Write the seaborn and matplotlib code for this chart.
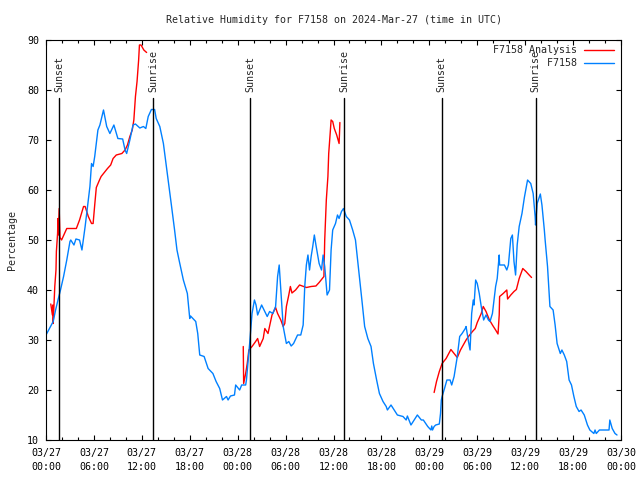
import pandas as pd
import matplotlib
matplotlib.use("Agg")
import matplotlib.pyplot as plt
import matplotlib.dates as mdates
from matplotlib.lines import Line2D
import seaborn as sns

START = pd.Timestamp("2024-03-27 00:00")

# observed RH (hours since start, percent)
obs_hours = [
    0.0, 0.5, 0.9, 1.2, 1.5, 1.8, 2.2, 2.6, 3.0, 3.1, 3.5, 3.75, 4.2, 4.5, 4.9,
    5.3, 5.5, 5.7, 5.9, 6.1, 6.5, 6.75, 7.2, 7.6, 8.0, 8.5, 9.0, 9.6, 9.9, 10.1,
    10.5, 10.9, 11.2, 11.75, 12.2, 12.5, 12.8, 13.2, 13.6, 13.8, 14.25, 14.7,
    15.3, 15.7, 16.1, 16.4, 16.7, 17.2, 17.7, 18.0, 18.1, 18.75, 19.0, 19.25,
    19.8, 20.3, 20.9, 21.3, 21.75, 22.1, 22.6, 22.8, 23.1, 23.6, 23.75, 24.25,
    24.5, 25.0, 25.1, 25.5, 25.8, 26.1, 26.3, 26.5, 27.0, 27.4, 27.7, 28.0,
    28.4, 28.75, 29.0, 29.2, 29.4, 29.7, 30.1, 30.4, 30.7, 31.0, 31.5, 31.9,
    32.2, 32.4, 32.6, 32.8, 33.0, 33.2, 33.4, 33.6, 33.8, 34.2, 34.5, 34.7,
    34.9, 35.2, 35.5, 35.7, 35.9, 36.25, 36.5, 36.7, 37.0, 37.25, 37.6, 38.0,
    38.4, 38.75, 39.0, 39.3, 39.6, 39.9, 40.3, 40.7, 41.0, 41.4, 41.75, 42.2,
    42.6, 42.75, 43.2, 43.6, 44.0, 44.7, 45.1, 45.25, 45.7, 46.1, 46.5, 47.0,
    47.25, 47.8, 48.2, 48.3, 48.4, 48.6, 48.8, 49.25, 49.4, 49.5, 49.6, 49.9,
    50.2, 50.6, 50.8, 51.1, 51.3, 51.5, 51.8, 52.1, 52.5, 52.6, 52.9, 53.1,
    53.3, 53.5, 53.6, 53.8, 54.0, 54.25, 54.5, 54.8, 55.1, 55.4, 55.6, 55.9,
    56.3, 56.5, 56.75, 56.8, 57.4, 57.7, 57.9, 58.2, 58.4, 58.6, 58.8, 59.0,
    59.25, 59.6, 59.9, 60.3, 60.7, 61.0, 61.25, 61.3, 61.5, 61.9, 62.1, 62.4,
    62.5, 62.8, 63.1, 63.5, 63.75, 64.0, 64.4, 64.6, 64.9, 65.2, 65.5, 65.8,
    66.1, 66.4, 66.75, 67.0, 67.4, 67.8, 68.1, 68.6, 68.75, 68.9, 69.3, 70.5,
    70.6, 70.9, 71.25, 71.5,
]
obs_rh = [
    31, 32.5, 33.7, 36, 38, 39.9, 42.7, 46, 49.7, 50, 49, 50.2, 50, 48, 52.7,
    58, 60.7, 65.3, 64.7, 66.7, 72, 73, 76, 72.7, 71.3, 73, 70.3, 70.2, 68, 67.3,
    70, 73, 73.2, 72.4, 72.7, 72.3, 74.7, 76.1, 76.1, 74.3, 72.7, 69.3,
    62, 57, 52, 48, 45.7, 42, 39.3, 34.3, 34.8, 33.7, 31.3, 27,
    26.7, 24.3, 23.3, 21.7, 20.3, 18, 18.7, 18, 18.8, 19, 21, 20,
    21, 21, 22, 29.3, 35.3, 38, 37, 35, 37, 35.7, 34.7, 35.7,
    35.3, 36.7, 42.7, 45, 40, 32.7, 29.3, 29.7, 28.8, 29.3, 31, 31,
    33, 40.7, 45, 47, 44, 46.7, 48.7, 51, 49, 45.3, 44, 47,
    44.7, 39, 40, 48, 52, 53.3, 55, 54.3, 55.7, 56.3, 54.7, 54,
    52, 50, 46.3, 42, 37.3, 32.7, 30.3, 28.7, 25.3, 22, 19.3, 17.7,
    16.7, 16, 17, 16, 15, 14.7, 14, 14.8, 13, 14, 15, 14,
    14, 12.7, 12, 12.8, 12, 12.7, 13, 13.2, 15.3, 18, 18.7, 20.3,
    22, 22, 21, 22.7, 24.7, 26.7, 30.7, 31.3, 32.3, 32.7, 29.7, 28,
    35.3, 38, 37, 42, 41.3, 39.3, 36.7, 34, 35, 34, 33.7, 35.3,
    40.7, 42.3, 47, 45, 45, 44, 45, 50.3, 51, 45.7, 43, 49,
    52.7, 55.3, 58.5, 62, 61.3, 59.3, 54.7, 53, 57.3, 59.2, 57, 52,
    50, 44.7, 36.7, 36, 33, 29.3, 27.3, 28, 27, 25.7, 22, 21,
    18.7, 16.7, 15.7, 16, 15, 13, 12, 11.3, 12, 11.3, 12, 12,
    14, 12.3, 11.3, 11,
]

# analysis RH, three separate runs
ana_hours = [
    0.6, 0.8, 0.85, 0.9, 1.1, 1.25, 1.3, 1.45, 1.5, 1.55, 1.65, 1.75, 1.95,
    2.6, 3.8, 4.2, 4.7, 4.9, 5.3, 5.7, 5.9, 6.1, 6.3, 6.7, 6.9, 7.4, 7.7, 8.1,
    8.4, 8.8, 9.5, 9.9, 10.2, 10.5, 10.8, 11.0, 11.2, 11.4, 11.6, 11.7, 11.9,
    12.25, 12.6,
    24.7, 24.75, 25.0, 25.2, 25.4, 25.8, 26.25, 26.5, 26.75, 27.2, 27.4, 27.8,
    28.0, 28.3, 28.75, 29.0, 29.4, 29.7, 29.9, 30.1, 30.4, 30.6, 30.8, 31.25,
    31.75, 32.6, 33.2, 33.8, 34.2, 34.5, 34.8, 34.9, 35.0, 35.1, 35.3, 35.4,
    35.6, 35.7, 35.9, 36.1, 36.4, 36.7, 36.75, 36.8,
    48.6, 48.9, 49.25, 49.6, 50.1, 50.7, 51.1, 51.5, 51.9, 52.6, 52.9, 53.4,
    53.75, 54.0, 54.5, 54.75, 55.1, 55.5, 55.9, 56.3, 56.6, 56.75, 56.8, 57.25,
    57.7, 57.8, 58.2, 58.6, 58.9, 59.25, 59.7, 60.1, 60.5, 60.8,
]
ana_rh = [
    37.2, 35, 37, 33.3, 40.7, 44, 47.7, 51.3, 54.3, 51, 56.3, 50.5, 50,
    52.3, 52.3, 54, 56.7, 56.7, 54.7, 53.3, 53.3, 57, 60.5, 62, 62.7, 63.7, 64.3, 65,
    66.3, 67, 67.3, 68, 69, 70.7, 72, 74, 78.7, 81.7, 86, 89, 89,
    88, 87.5,
    28.7, 21.3, 23.3, 25.3, 28, 28.7, 29.7, 30.3, 28.7, 30.3, 32.3, 31.3,
    32.8, 35, 36.5, 35.3, 34, 32.7, 33.3, 36.7, 39, 40.7, 39.4, 40,
    41, 40.5, 40.7, 40.8, 41.5, 42.1, 42.7, 50, 54, 58, 62.7, 67.3,
    71.7, 74, 73.7, 72.3, 71, 69.3, 71.3, 73.5,
    19.5, 21.7, 23.7, 25.3, 26.3, 28.1, 27.3, 26.5, 28, 30, 30.7, 31.7,
    32.3, 33.5, 35.3, 36.7, 35.7, 34.1, 33, 32, 31.2, 35, 38.7, 39.3,
    40, 38.2, 39, 39.7, 40.1, 42.3, 44.3, 43.7, 43, 42.5,
]
ana_run = [1] * 43 + [2] * 44 + [3] * 34

sun_hours = [1.68, 13.4, 25.55, 37.3, 49.55, 61.3]
sun_labels = ["Sunset", "Sunrise", "Sunset", "Sunrise", "Sunset", "Sunrise"]

RED = "#ff0000"
BLUE = "#0080ff"
FS = 7.2

obs = pd.DataFrame({"time": START + pd.to_timedelta(obs_hours, unit="h"), "rh": obs_rh})
ana = pd.DataFrame({"time": START + pd.to_timedelta(ana_hours, unit="h"),
                    "rh": ana_rh, "run": ana_run})

sns.set_theme(style="ticks")
plt.rcParams["font.family"] = ["DejaVu Sans Mono"]
plt.rcParams["font.size"] = FS

fig = plt.figure(figsize=(6.4, 4.8), dpi=100)
ax = fig.add_axes([46 / 640, 40 / 480, 575 / 640, 400 / 480])

sns.lineplot(data=ana, x="time", y="rh", units="run", estimator=None,
             color=RED, lw=1.0, legend=False, ax=ax)
sns.lineplot(data=obs, x="time", y="rh", color=BLUE, lw=1.0, legend=False, ax=ax)

# sunset / sunrise markers
for h, lab in zip(sun_hours, sun_labels):
    t = START + pd.Timedelta(hours=h)
    ax.axvline(t, ymin=0, ymax=0.855, color="black", lw=1.0)
    ax.text(t, 79.6, lab, rotation=90, ha="center", va="bottom", fontsize=FS)

ax.set_xlim(START, START + pd.Timedelta(hours=72))
ax.set_ylim(10, 90)
ax.set_yticks(range(10, 91, 10))
ax.xaxis.set_major_locator(mdates.HourLocator(byhour=range(0, 24, 6)))
ax.xaxis.set_minor_locator(mdates.HourLocator(byhour=range(0, 24, 2)))
ax.xaxis.set_major_formatter(mdates.DateFormatter("%m/%d\n%H:%M"))
for lbl in ax.get_xticklabels():
    lbl.set_linespacing(1.5)

ax.tick_params(which="both", direction="in", top=True, right=True,
               colors="black", labelsize=FS, width=0.8)
ax.tick_params(which="major", length=3.6)
ax.tick_params(which="minor", length=2.2)
ax.tick_params(axis="x", pad=6)
ax.tick_params(axis="y", pad=5)
for s in ax.spines.values():
    s.set_color("black")
    s.set_linewidth(0.8)

ax.set_xlabel("")
ax.set_ylabel("Percentage", fontsize=FS, labelpad=7)
ax.set_title("Relative Humidity for F7158 on 2024-Mar-27 (time in UTC)",
             fontsize=FS, pad=12)

handles = [Line2D([], [], color=RED, lw=1.0), Line2D([], [], color=BLUE, lw=1.0)]
ax.legend(handles, ["F7158 Analysis", "         F7158"], loc="upper right",
          frameon=False, markerfirst=False, handlelength=3.0, handletextpad=0.7,
          labelspacing=0.35, fontsize=FS, borderaxespad=0.3,
          bbox_to_anchor=(1.0, 1.005))

fig.savefig("out.png", dpi=100)
